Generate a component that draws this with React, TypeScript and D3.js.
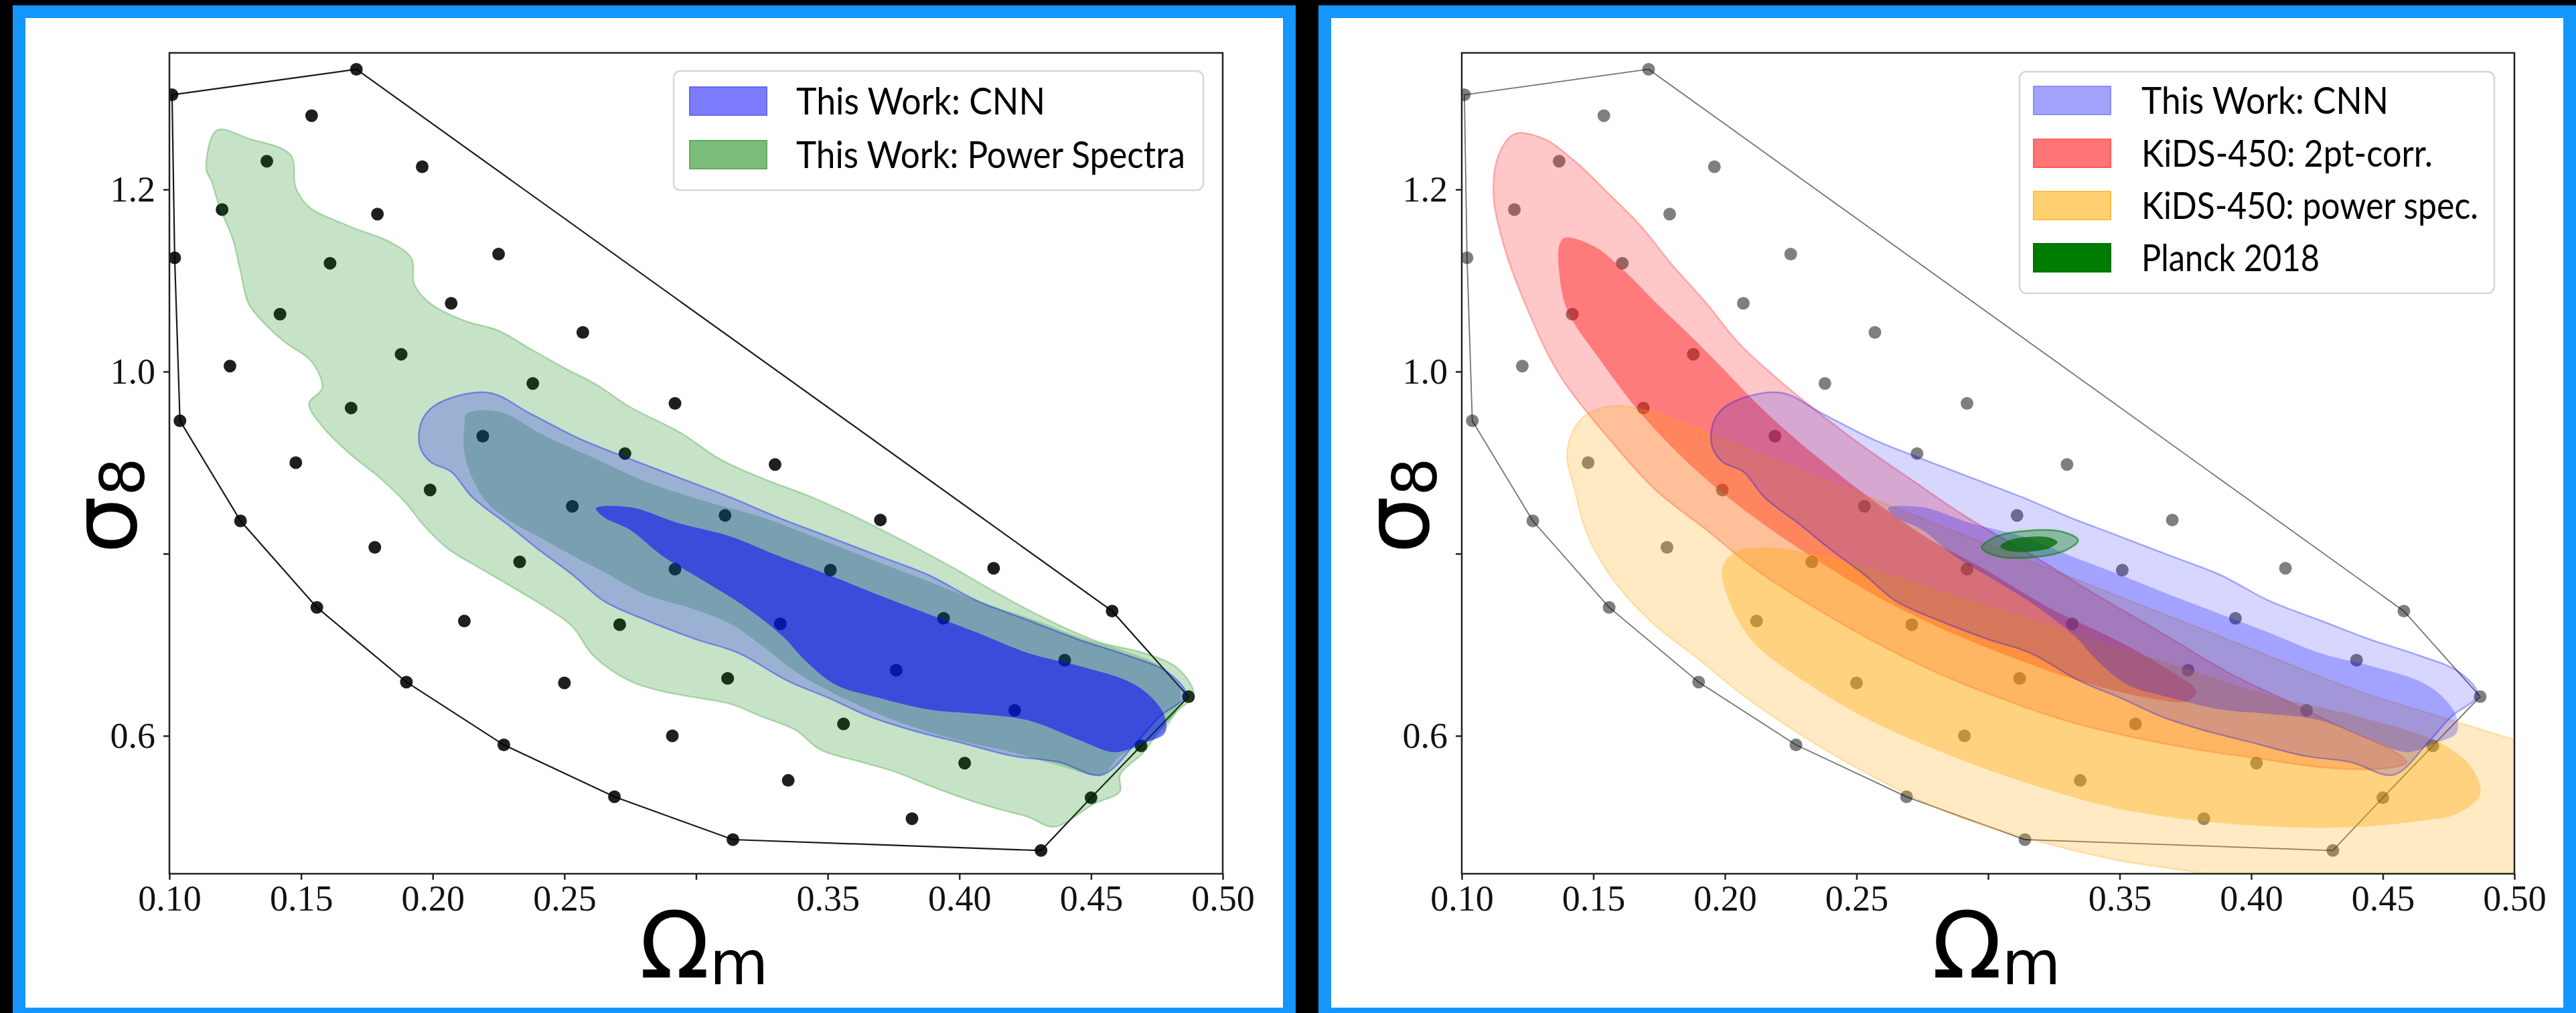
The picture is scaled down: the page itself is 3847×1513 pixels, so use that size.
import React, { useEffect, useRef } from 'react';
import * as d3 from 'd3';

type Pt = [number, number];

// axis ticks
const omegaTicks = [0.1, 0.15, 0.2, 0.25, 0.3, 0.35, 0.4, 0.45, 0.5];
const omegaTickLabels = ['0.10', '0.15', '0.20', '0.25', '', '0.35', '0.40', '0.45', '0.50'];
const sigmaTicks = [0.6, 0.8, 1.0, 1.2];
const sigmaTickLabels = ['0.6', '', '1.0', '1.2'];

// simulation grid (Omega_m, sigma_8) - the outer ring, in hull order
const hullPoints: Pt[] = [
  [0.101, 1.304], [0.171, 1.332], [0.458, 0.737], [0.487, 0.643], [0.450, 0.532], [0.431, 0.474],
  [0.314, 0.486], [0.269, 0.533], [0.227, 0.590], [0.190, 0.659], [0.156, 0.741], [0.127, 0.836],
  [0.104, 0.946], [0.102, 1.125],
];

// simulation grid - inner points
const innerPoints: Pt[] = [
  [0.154, 1.281], [0.196, 1.225], [0.137, 1.231], [0.179, 1.173], [0.120, 1.178], [0.225, 1.129],
  [0.161, 1.119], [0.207, 1.075], [0.142, 1.063], [0.257, 1.043], [0.123, 1.006], [0.188, 1.019],
  [0.238, 0.987], [0.169, 0.960], [0.292, 0.965], [0.219, 0.929], [0.273, 0.910], [0.330, 0.898],
  [0.148, 0.900], [0.199, 0.870], [0.253, 0.852], [0.311, 0.842], [0.370, 0.837], [0.178, 0.807],
  [0.233, 0.791], [0.292, 0.783], [0.351, 0.782], [0.413, 0.784], [0.212, 0.726], [0.271, 0.722],
  [0.332, 0.723], [0.394, 0.729], [0.250, 0.658], [0.312, 0.663], [0.376, 0.672], [0.440, 0.683],
  [0.291, 0.600], [0.356, 0.613], [0.421, 0.628], [0.469, 0.589], [0.335, 0.551], [0.402, 0.570],
  [0.382, 0.509],
];

// This Work: power spectra, 2 sigma and 1 sigma
const psOuter: Pt[] = [
  [0.118, 1.265], [0.130, 1.256], [0.146, 1.238], [0.148, 1.202], [0.153, 1.181], [0.168, 1.160],
  [0.184, 1.142], [0.192, 1.124], [0.193, 1.096], [0.199, 1.075], [0.212, 1.056], [0.225, 1.045],
  [0.237, 1.025], [0.250, 1.004], [0.262, 0.986], [0.275, 0.961], [0.294, 0.933], [0.309, 0.904],
  [0.325, 0.883], [0.344, 0.862], [0.363, 0.837], [0.382, 0.809], [0.398, 0.784], [0.413, 0.759],
  [0.429, 0.734], [0.442, 0.716], [0.454, 0.702], [0.470, 0.691], [0.483, 0.674], [0.489, 0.645],
  [0.483, 0.628], [0.476, 0.606], [0.470, 0.582], [0.461, 0.557], [0.461, 0.539], [0.451, 0.525],
  [0.436, 0.500], [0.426, 0.511], [0.413, 0.521], [0.401, 0.532], [0.388, 0.546], [0.376, 0.560],
  [0.363, 0.571], [0.347, 0.585], [0.338, 0.606], [0.325, 0.621], [0.313, 0.635], [0.300, 0.642],
  [0.287, 0.649], [0.275, 0.660], [0.261, 0.688], [0.253, 0.720], [0.243, 0.741], [0.231, 0.762],
  [0.218, 0.784], [0.206, 0.805], [0.196, 0.833], [0.190, 0.855], [0.180, 0.883], [0.168, 0.911],
  [0.158, 0.940], [0.153, 0.965], [0.158, 0.982], [0.154, 1.011], [0.144, 1.032], [0.136, 1.053],
  [0.130, 1.075], [0.127, 1.110], [0.124, 1.146], [0.119, 1.181], [0.116, 1.209], [0.114, 1.222],
];
const psInner: Pt[] = [
  [0.213, 0.954], [0.225, 0.956], [0.243, 0.929], [0.262, 0.904], [0.281, 0.879], [0.303, 0.858],
  [0.325, 0.840], [0.347, 0.816], [0.369, 0.791], [0.388, 0.770], [0.410, 0.745], [0.429, 0.727],
  [0.445, 0.709], [0.461, 0.695], [0.476, 0.677], [0.484, 0.649], [0.478, 0.606], [0.461, 0.578],
  [0.454, 0.557], [0.438, 0.567], [0.420, 0.582], [0.401, 0.594], [0.382, 0.610], [0.366, 0.628],
  [0.350, 0.650], [0.338, 0.670], [0.325, 0.699], [0.313, 0.723], [0.297, 0.741], [0.281, 0.755],
  [0.265, 0.780], [0.253, 0.798], [0.240, 0.819], [0.231, 0.833], [0.221, 0.855], [0.215, 0.883],
  [0.212, 0.911], [0.212, 0.940],
];

// This Work: CNN, 2 sigma and 1 sigma
const cnnOuter: Pt[] = [
  [0.195, 0.919], [0.196, 0.947], [0.202, 0.965], [0.221, 0.977], [0.237, 0.954], [0.256, 0.926],
  [0.275, 0.904], [0.294, 0.883], [0.313, 0.862], [0.331, 0.840], [0.350, 0.819], [0.369, 0.798],
  [0.388, 0.777], [0.407, 0.748], [0.426, 0.727], [0.445, 0.706], [0.464, 0.688], [0.479, 0.670],
  [0.486, 0.645], [0.476, 0.621], [0.467, 0.592], [0.454, 0.557], [0.438, 0.571], [0.420, 0.578],
  [0.401, 0.592], [0.382, 0.606], [0.366, 0.621], [0.350, 0.642], [0.335, 0.660], [0.316, 0.691],
  [0.300, 0.706], [0.281, 0.727], [0.265, 0.748], [0.253, 0.777], [0.240, 0.805], [0.228, 0.833],
  [0.215, 0.862], [0.207, 0.890], [0.199, 0.901],
];
const cnnInner: Pt[] = [
  [0.262, 0.850], [0.275, 0.851], [0.294, 0.833], [0.313, 0.819], [0.331, 0.798], [0.350, 0.777],
  [0.369, 0.755], [0.388, 0.734], [0.407, 0.713], [0.426, 0.691], [0.445, 0.677], [0.464, 0.660],
  [0.473, 0.642], [0.478, 0.621], [0.478, 0.603], [0.470, 0.592], [0.459, 0.582], [0.445, 0.596],
  [0.426, 0.617], [0.407, 0.624], [0.388, 0.629], [0.369, 0.642], [0.353, 0.656], [0.341, 0.684],
  [0.333, 0.709], [0.319, 0.741], [0.303, 0.770], [0.287, 0.798], [0.275, 0.826], [0.265, 0.840],
];

// KiDS-450 2pt-corr.
const kidsCorrOuter: Pt[] = [
  [0.120, 1.261], [0.131, 1.256], [0.143, 1.231], [0.156, 1.195], [0.168, 1.160], [0.180, 1.117],
  [0.193, 1.075], [0.205, 1.032], [0.218, 0.997], [0.233, 0.961], [0.252, 0.919], [0.270, 0.883],
  [0.292, 0.840], [0.317, 0.798], [0.341, 0.755], [0.366, 0.713], [0.391, 0.670], [0.416, 0.635],
  [0.437, 0.606], [0.453, 0.585], [0.459, 0.571], [0.450, 0.564], [0.428, 0.565], [0.403, 0.575],
  [0.379, 0.585], [0.354, 0.599], [0.329, 0.617], [0.304, 0.642], [0.280, 0.670], [0.255, 0.706],
  [0.230, 0.748], [0.211, 0.784], [0.193, 0.826], [0.174, 0.869], [0.156, 0.926], [0.137, 0.997],
  [0.125, 1.068], [0.116, 1.138], [0.112, 1.195], [0.114, 1.238],
];
const kidsCorrInner: Pt[] = [
  [0.139, 1.147], [0.150, 1.138], [0.162, 1.110], [0.174, 1.075], [0.187, 1.039], [0.199, 1.004],
  [0.211, 0.968], [0.224, 0.933], [0.239, 0.897], [0.258, 0.855], [0.276, 0.819], [0.298, 0.784],
  [0.323, 0.741], [0.348, 0.706], [0.366, 0.677], [0.379, 0.649], [0.376, 0.638], [0.360, 0.642],
  [0.335, 0.660], [0.311, 0.684], [0.286, 0.713], [0.261, 0.748], [0.236, 0.791], [0.211, 0.840],
  [0.187, 0.897], [0.168, 0.954], [0.153, 1.011], [0.140, 1.068], [0.137, 1.110], [0.137, 1.138],
];

// KiDS-450 power spec.
const kidsSpecOuter: Pt[] = [
  [0.140, 0.911], [0.145, 0.947], [0.156, 0.962], [0.174, 0.954], [0.199, 0.926], [0.224, 0.897],
  [0.255, 0.862], [0.286, 0.826], [0.317, 0.791], [0.348, 0.755], [0.379, 0.720], [0.410, 0.684],
  [0.441, 0.649], [0.472, 0.621], [0.500, 0.596], [0.533, 0.571], [0.549, 0.486], [0.533, 0.400],
  [0.472, 0.400], [0.410, 0.432], [0.379, 0.450], [0.348, 0.464], [0.317, 0.486], [0.286, 0.514],
  [0.255, 0.557], [0.230, 0.599], [0.208, 0.642], [0.190, 0.684], [0.174, 0.720], [0.162, 0.755],
  [0.153, 0.791], [0.147, 0.826], [0.143, 0.869],
];
const kidsSpecInner: Pt[] = [
  [0.199, 0.784], [0.204, 0.802], [0.215, 0.807], [0.230, 0.802], [0.255, 0.784], [0.286, 0.755],
  [0.317, 0.727], [0.348, 0.699], [0.379, 0.670], [0.410, 0.642], [0.441, 0.621], [0.472, 0.592],
  [0.484, 0.564], [0.487, 0.536], [0.478, 0.514], [0.465, 0.507], [0.441, 0.500], [0.410, 0.500],
  [0.379, 0.507], [0.348, 0.521], [0.317, 0.546], [0.286, 0.578], [0.255, 0.617], [0.230, 0.660],
  [0.211, 0.702], [0.202, 0.745],
];

// Planck 2018
const planckOuter: Pt[] = [
  [0.3342, 0.8147], [0.3291, 0.8032], [0.3163, 0.7960], [0.3033, 0.7974],
  [0.2976, 0.8066], [0.3027, 0.8182], [0.3155, 0.8253], [0.3285, 0.8239],
];
const planckInner: Pt[] = [
  [0.3264, 0.8127], [0.3234, 0.8063], [0.3157, 0.8022], [0.3080, 0.8029],
  [0.3046, 0.8079], [0.3077, 0.8144], [0.3153, 0.8184], [0.3231, 0.8178],
];

const leftLegendLabels = ['This Work: CNN', 'This Work: Power Spectra'];
const rightLegendLabels = ['This Work: CNN', 'KiDS-450: 2pt-corr.', 'KiDS-450: power spec.', 'Planck 2018'];

const W = 3847;
const H = 1513;
const BLUE = '#1596fc';
const SERIF = '"Liberation Serif", "DejaVu Serif", serif';
const SANS = '"DejaVu Sans", sans-serif';
const LEGEND_FONT = 'Lato, "DejaVu Sans", sans-serif';

const panels = [
  {
    id: 'left',
    frame: [19, 8, 1935, 1520],
    inner: [38, 27, 1916, 1505],
    plot: [253, 79, 1826, 1305],
    dot: { fill: '#000', opacity: 0.88 },
    hull: { stroke: '#000', opacity: 0.9, width: 2.2 },
    layers: [
      { data: psOuter, color: '#008000', opacity: 0.22, edge: 0.25 },
      { data: psInner, color: '#008000', opacity: 0.22, edge: 0 },
      { data: cnnOuter, color: '#0000ff', opacity: 0.22, edge: 0.35 },
      { data: cnnInner, color: '#0000ff', opacity: 0.52, edge: 0 },
    ],
    legend: {
      box: [1006, 106, 1797, 284],
      patchX: 1030, textX: 1189,
      rows: [130, 210],
      labels: leftLegendLabels,
      widths: [372, 581],
      fills: ['#7b7bfc', '#7bbc7b'],
      strokes: ['#6767f4', '#5fae5f'],
    },
    sigmaLabel: [203, 827],
    omegaLabel: [955, 1460],
  },
  {
    id: 'right',
    frame: [1969, 8, 3860, 1520],
    inner: [1988, 27, 3828, 1505],
    plot: [2183, 79, 3755, 1305],
    dot: { fill: '#000', opacity: 0.5 },
    hull: { stroke: '#000', opacity: 0.55, width: 1.8 },
    layers: [
      { data: kidsCorrOuter, color: '#ff0000', opacity: 0.22, edge: 0.25 },
      { data: kidsCorrInner, color: '#ff0000', opacity: 0.38, edge: 0 },
      { data: kidsSpecOuter, color: '#ffa500', opacity: 0.235, edge: 0.25 },
      { data: kidsSpecInner, color: '#ffa500', opacity: 0.35, edge: 0 },
      { data: cnnOuter, color: '#0000ff', opacity: 0.16, edge: 0.3 },
      { data: cnnInner, color: '#0000ff', opacity: 0.235, edge: 0 },
      { data: planckOuter, color: '#008000', opacity: 0.35, edge: 0.6 },
      { data: planckInner, color: '#006a00', opacity: 0.75, edge: 0 },
    ],
    legend: {
      box: [3016, 107, 3725, 438],
      patchX: 3037, textX: 3198,
      rows: [129, 208, 286, 364],
      labels: rightLegendLabels,
      widths: [369, 435, 503, 266],
      fills: ['#a3a3fc', '#ff7474', '#ffd070', '#007d00'],
      strokes: ['#8c8cf8', '#ff5c5c', '#ffc040', '#007000'],
    },
    sigmaLabel: [2133, 827],
    omegaLabel: [2885, 1460],
  },
];

const App = () => {
  const ref = useRef<SVGSVGElement>(null);

  useEffect(() => {
    const svg = d3.select(ref.current);
    svg.selectAll('*').remove();

    svg.append('rect').attr('width', W).attr('height', H).attr('fill', '#000');
    const defs = svg.append('defs');

    panels.forEach(p => {
      const [fx0, fy0, fx1, fy1] = p.frame;
      const [ix0, iy0, ix1, iy1] = p.inner;
      const [px0, py0, px1, py1] = p.plot;

      svg.append('rect').attr('x', fx0).attr('y', fy0).attr('width', fx1 - fx0).attr('height', fy1 - fy0).attr('fill', BLUE);
      svg.append('rect').attr('x', ix0).attr('y', iy0).attr('width', ix1 - ix0).attr('height', iy1 - iy0).attr('fill', '#fff');

      const x = d3.scaleLinear().domain([0.1, 0.5]).range([px0, px1]);
      const y = d3.scaleLinear().domain([0.4485, 1.35]).range([py1, py0]);

      defs.append('clipPath').attr('id', `clip-${p.id}`)
        .append('rect').attr('x', px0).attr('y', py0).attr('width', px1 - px0).attr('height', py1 - py0);

      const plot = svg.append('g').attr('clip-path', `url(#clip-${p.id})`);

      // grid points + hull
      plot.append('path')
        .datum(hullPoints)
        .attr('d', d3.line<Pt>().x(d => x(d[0])).y(d => y(d[1])).curve(d3.curveLinearClosed))
        .attr('fill', 'none')
        .attr('stroke', p.hull.stroke)
        .attr('stroke-opacity', p.hull.opacity)
        .attr('stroke-width', p.hull.width);

      plot.selectAll('circle.grid')
        .data([...hullPoints, ...innerPoints])
        .join('circle')
        .attr('class', 'grid')
        .attr('cx', d => x(d[0]))
        .attr('cy', d => y(d[1]))
        .attr('r', 9.5)
        .attr('fill', p.dot.fill)
        .attr('fill-opacity', p.dot.opacity);

      // contours
      const shape = d3.line<Pt>().x(d => x(d[0])).y(d => y(d[1])).curve(d3.curveCatmullRomClosed.alpha(0.5));
      p.layers.forEach(l => {
        plot.append('path')
          .attr('d', shape(l.data))
          .attr('fill', l.color)
          .attr('fill-opacity', l.opacity)
          .attr('stroke', l.color)
          .attr('stroke-opacity', l.edge)
          .attr('stroke-width', 2.5);
      });

      // spines
      svg.append('rect')
        .attr('x', px0).attr('y', py0).attr('width', px1 - px0).attr('height', py1 - py0)
        .attr('fill', 'none').attr('stroke', '#222').attr('stroke-width', 2.5);

      // axes
      const xAxis = svg.append('g')
        .attr('transform', `translate(0,${py1})`)
        .call(d3.axisBottom(x).tickValues(omegaTicks).tickFormat((d, i) => omegaTickLabels[i]).tickSize(9).tickPadding(8));
      const yAxis = svg.append('g')
        .attr('transform', `translate(${px0},0)`)
        .call(d3.axisLeft(y).tickValues(sigmaTicks).tickFormat((d, i) => sigmaTickLabels[i]).tickSize(9).tickPadding(12));
      [xAxis, yAxis].forEach(a => {
        a.select('.domain').remove();
        a.selectAll('line').attr('stroke', '#222').attr('stroke-width', 2.5);
        a.selectAll('text')
          .attr('fill', '#111')
          .style('font-family', SERIF)
          .style('font-size', '54px');
      });

      // axis labels
      const sl = svg.append('text')
        .attr('transform', `translate(${p.sigmaLabel[0]},${p.sigmaLabel[1]}) rotate(-90)`)
        .style('font-family', SANS)
        .style('font-size', '136px')
        .attr('fill', '#000');
      sl.append('tspan').text('σ');
      sl.append('tspan').attr('dy', 12).style('font-size', '90px').text('8');

      const ol = svg.append('text')
        .attr('x', p.omegaLabel[0])
        .attr('y', p.omegaLabel[1])
        .style('font-family', SANS)
        .style('font-size', '137px')
        .attr('fill', '#000');
      ol.append('tspan').text('Ω');
      ol.append('tspan').attr('dy', 10).style('font-size', '90px').text('m');

      // legend
      const lg = p.legend;
      const leg = svg.append('g');
      leg.append('rect')
        .attr('x', lg.box[0]).attr('y', lg.box[1])
        .attr('width', lg.box[2] - lg.box[0]).attr('height', lg.box[3] - lg.box[1])
        .attr('rx', 10)
        .attr('fill', '#fff').attr('fill-opacity', 0.85)
        .attr('stroke', '#d6d6d6').attr('stroke-width', 2.5);
      lg.labels.forEach((label, i) => {
        leg.append('rect')
          .attr('x', lg.patchX).attr('y', lg.rows[i])
          .attr('width', 115).attr('height', 42)
          .attr('fill', lg.fills[i])
          .attr('stroke', lg.strokes[i]).attr('stroke-width', 2);
        leg.append('text')
          .attr('x', lg.textX).attr('y', lg.rows[i] + 41)
          .attr('textLength', lg.widths[i])
          .attr('lengthAdjust', 'spacingAndGlyphs')
          .style('font-family', LEGEND_FONT)
          .style('font-size', '56px')
          .attr('fill', '#000')
          .text(label);
      });
    });
  }, []);

  return (
    <svg
      ref={ref}
      width={W}
      height={H}
      style={{ position: 'absolute', left: 0, top: 0, display: 'block' }}
    />
  );
};

export default App;
